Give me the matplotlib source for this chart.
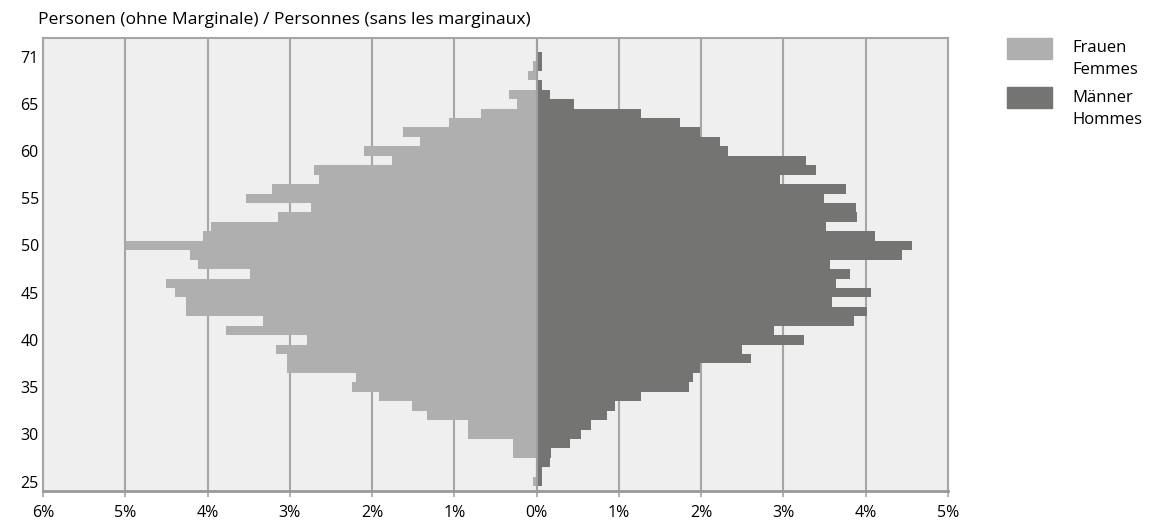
import numpy as np
import matplotlib
matplotlib.use("Agg")
import matplotlib.pyplot as plt
from matplotlib.patches import Rectangle

plt.rcParams['font.family'] = ['Open Sans', 'DejaVu Sans']

# age groups from top (71) to bottom (25), share of persons in %
ages = list(range(71, 24, -1))
frauen = [0.00, 0.00, 0.05, 0.11, 0.00, 0.34, 0.24, 0.68, 1.07, 1.62,
          1.42, 2.10, 1.76, 2.70, 2.65, 3.22, 3.53, 2.74, 3.14, 3.96,
          4.06, 4.99, 4.21, 4.11, 3.48, 4.50, 4.39, 4.26, 4.26, 3.32,
          3.77, 2.79, 3.17, 3.04, 3.04, 2.20, 2.25, 1.91, 1.52, 1.33,
          0.84, 0.84, 0.29, 0.29, 0.00, 0.00, 0.05]
maenner = [0.02, 0.06, 0.06, 0.00, 0.07, 0.16, 0.46, 1.27, 1.74, 1.98,
           2.23, 2.32, 3.27, 3.39, 2.96, 3.76, 3.49, 3.88, 3.89, 3.52,
           4.11, 4.56, 4.44, 3.56, 3.81, 3.64, 4.06, 3.59, 4.01, 3.86,
           2.88, 3.25, 2.49, 2.61, 1.98, 1.90, 1.85, 1.27, 0.95, 0.85,
           0.66, 0.54, 0.41, 0.17, 0.16, 0.07, 0.06]

ytick_pos = [25, 30, 35, 40, 45, 50, 55, 60, 65, 70]
ytick_lab = ['25', '30', '35', '40', '45', '50', '55', '60', '65', '71']
xtick_pos = [-6, -5, -4, -3, -2, -1, 0, 1, 2, 3, 4, 5]
xtick_lab = ['6%', '5%', '4%', '3%', '2%', '1%', '0%', '1%', '2%', '3%', '4%', '5%']

col_f = '#afafaf'
col_m = '#747472'
grid_col = '#a6a6a6'

fig = plt.figure(figsize=(11.49, 5.25), dpi=100)
ax = fig.add_axes([0.0374, 0.0648, 0.7877, 0.8634])
ax.set_facecolor('#efefef')

ax.barh(ages, -np.array(frauen), height=1.0, color=col_f, zorder=2)
ax.barh(ages, maenner, height=1.0, color=col_m, zorder=2)
ax.axvline(0, color='#a0a0a0', lw=1.5, zorder=3)

ax.set_xlim(-6, 5)
ax.set_ylim(24, 72)
ax.set_xticks(xtick_pos)
ax.set_xticklabels(xtick_lab)
ax.set_yticks(ytick_pos)
ax.set_yticklabels(ytick_lab)
ax.xaxis.grid(True, color=grid_col, lw=1.5, zorder=1)
ax.set_axisbelow(True)

ax.tick_params(axis='x', length=4, width=1.2, color=grid_col, labelsize=11.5, pad=6)
ax.tick_params(axis='y', length=0, labelsize=11.5, pad=3)
for s in ['left', 'right', 'top']:
    ax.spines[s].set_color(grid_col)
    ax.spines[s].set_linewidth(1.5)
ax.spines['bottom'].set_color('#999999')
ax.spines['bottom'].set_linewidth(2)

fig.text(0.033, 0.962, 'Personen (ohne Marginale) / Personnes (sans les marginaux)',
         fontsize=12.6, va='center', ha='left')

# legend
fig.add_artist(Rectangle((1007 / 1149, 1 - 59 / 525), 45 / 1149, 21 / 525,
                         transform=fig.transFigure, color=col_f))
fig.add_artist(Rectangle((1007 / 1149, 1 - 108 / 525), 45 / 1149, 21 / 525,
                         transform=fig.transFigure, color=col_m))
fig.text(1072 / 1149, 1 - 59 / 525, 'Frauen\nFemmes', fontsize=12,
         va='center', ha='left', linespacing=1.5)
fig.text(1072 / 1149, 1 - 109 / 525, 'Männer\nHommes', fontsize=12,
         va='center', ha='left', linespacing=1.5)

fig.savefig('out.png', dpi=100)
